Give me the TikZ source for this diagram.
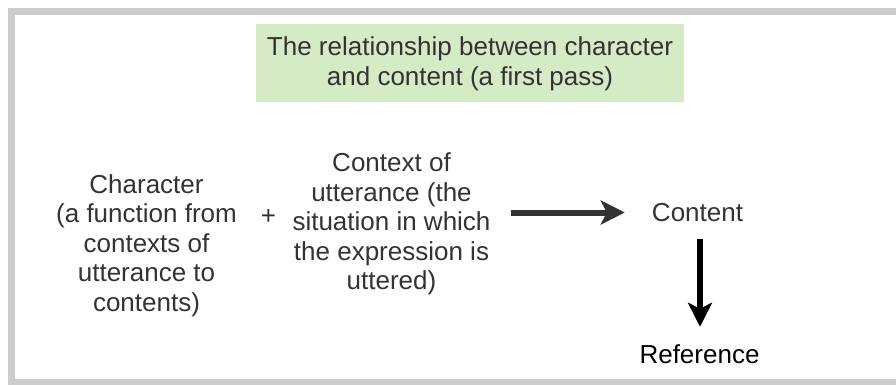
\documentclass[tikz,border=0pt]{standalone}
\usepackage{fontspec}
\setmainfont{Liberation Sans}
\usetikzlibrary{arrows.meta}
\definecolor{framegray}{RGB}{204,204,204}
\definecolor{titlegreen}{RGB}{213,235,197}
\definecolor{inkgray}{RGB}{51,51,51}
\begin{document}
\begin{tikzpicture}[x=1pt,y=-1pt,
  txt/.style={font=\fontsize{26}{29.5}\selectfont, text=inkgray, align=center, inner sep=0pt},
  flowarrow/.style={line width=6pt, -{Stealth[length=24pt,width=24pt,inset=6pt]}},
]
% page area
\useasboundingbox (0,0) rectangle (896,384);
% outer frame
\draw[framegray, line width=7pt] (11.5,11.5) rectangle (910,382.5);
% title panel
\fill[titlegreen] (256,24) rectangle (684,102);
\node[txt] (title) at (470,64) {The relationship between character\\and content (a first pass)};
% the two inputs
\node[txt] (char) at (146.5,245.5) {Character\\(a function from\\contexts of\\utterance to\\contents)};
\node[txt] (plus) at (268.5,217) {+};
\node[txt] (ctx) at (391.5,224) {Context of\\utterance (the\\situation in which\\the expression is\\uttered)};
% results
\node[txt] (cont) at (697.5,212.5) {Content};
\node[txt, text=black] (ref) at (699.5,354.5) {Reference};
% connectors
\draw[flowarrow, inkgray, shorten <=20pt, shorten >=27pt] (ctx.east |- cont.west) -- (cont.west);
\draw[flowarrow, black, shorten <=17pt, shorten >=18pt] (cont.south -| 700,0) -- (ref.north -| 700,0);
\end{tikzpicture}
\end{document}
